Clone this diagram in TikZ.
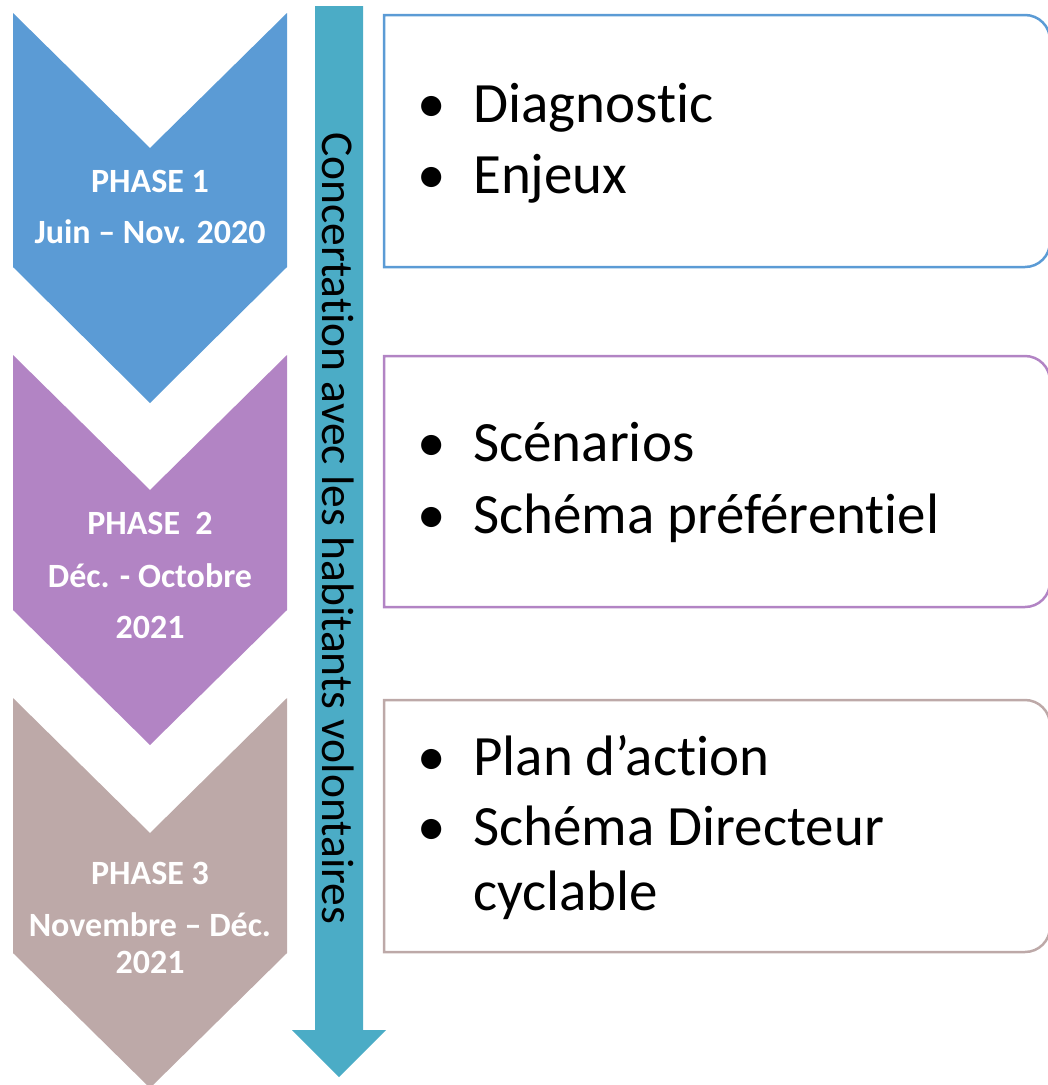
\documentclass[tikz,border=0pt]{standalone}
\usepackage{fontspec}
\setmainfont{Carlito}[Ligatures=NoCommon]
\usetikzlibrary{positioning}
\definecolor{phaseblue}{HTML}{5B9BD5}
\definecolor{phasepurple}{HTML}{B284C4}
\definecolor{phasetaupe}{HTML}{BDA9A8}
\definecolor{concblue}{HTML}{4BACC6}

\begin{document}
\begin{tikzpicture}[x=1pt,y=1pt,line join=miter,
    phasetxt/.style={text=white,font=\fontsize{34}{40}\selectfont\bfseries,anchor=base,inner sep=0pt},
    itemtxt/.style={font=\fontsize{57}{68}\selectfont,anchor=base west,inner sep=0pt},
    itemdot/.style={font=\fontsize{57}{68}\selectfont,anchor=base,inner sep=0pt},
    itembox/.style={line width=2.5pt}]
  \useasboundingbox (0,0) rectangle (1048,-1085);

  %--- Chevrons of the three phases ----------------------------------------
  \fill[phaseblue]   (13,-13)  -- (150,-148) -- (287,-13)  -- (287,-267) -- (150,-403)  -- (13,-267) -- cycle;
  \fill[phasepurple] (13,-355) -- (150,-490) -- (287,-355) -- (287,-610) -- (150,-745)  -- (13,-610) -- cycle;
  \fill[phasetaupe]  (13,-698) -- (150,-833) -- (287,-698) -- (287,-953) -- (150,-1088) -- (13,-953) -- cycle;

  \node[phasetxt] (ph1a) at (150,-192) {PHASE 1};
  \node[phasetxt] (ph1b) at (150,-243) {Juin – Nov. 2020};

  \node[phasetxt] (ph2a) at (150,-534) {PHASE\ \ 2};
  \node[phasetxt] (ph2b) at (150,-587) {Déc. - Octobre};
  \node[phasetxt] (ph2c) at (150,-638) {2021};

  \node[phasetxt] (ph3a) at (150,-884) {PHASE 3};
  \node[phasetxt] (ph3b) at (150,-936) {Novembre – Déc.};
  \node[phasetxt] (ph3c) at (150,-973) {2021};

  %--- Long arrow: concertation -------------------------------------------
  \fill[concblue] (315,-6) -- (363,-6) -- (363,-1030) -- (386,-1030)
       -- (339,-1077) -- (292,-1030) -- (315,-1030) -- cycle;
  \node[rotate=-90,anchor=base west,inner sep=0pt,font=\fontsize{45.5}{50}\selectfont]
       (conc) at (322,-132) {Concertation avec les habitants volontaires};

  %--- Boxes with the contents of each phase -------------------------------
  \draw[itembox,phaseblue] (384,-15) -- (1025,-15) arc[start angle=90,end angle=0,radius=25]
       -- (1050,-242) arc[start angle=0,end angle=-90,radius=25] -- (384,-267) -- cycle;
  \draw[itembox,phasepurple] (384,-356) -- (1025,-356) arc[start angle=90,end angle=0,radius=25]
       -- (1050,-582) arc[start angle=0,end angle=-90,radius=25] -- (384,-607) -- cycle;
  \draw[itembox,phasetaupe] (384,-700) -- (1025,-700) arc[start angle=90,end angle=0,radius=25]
       -- (1050,-927) arc[start angle=0,end angle=-90,radius=25] -- (384,-952) -- cycle;

  % items of phase 1
  \node[itemdot] (d1a) at (432,-122) {•};
  \node[itemtxt] (t1a) at (473,-122) {Diagnostic};
  \node[itemdot] (d1b) at (432,-193) {•};
  \node[itemtxt] (t1b) at (473,-193) {Enjeux};

  % items of phase 2
  \node[itemdot] (d2a) at (432,-461) {•};
  \node[itemtxt] (t2a) at (473,-461) {Scénarios};
  \node[itemdot] (d2b) at (432,-533) {•};
  \node[itemtxt] (t2b) at (473,-533) {Schéma préférentiel};

  % items of phase 3
  \node[itemdot] (d3a) at (432,-775) {•};
  \node[itemtxt] (t3a) at (473,-775) {Plan d’action};
  \node[itemdot] (d3b) at (432,-845) {•};
  \node[itemtxt] (t3b) at (473,-845) {Schéma Directeur};
  \node[itemtxt] (t3c) at (473,-910) {cyclable};
\end{tikzpicture}
\end{document}
